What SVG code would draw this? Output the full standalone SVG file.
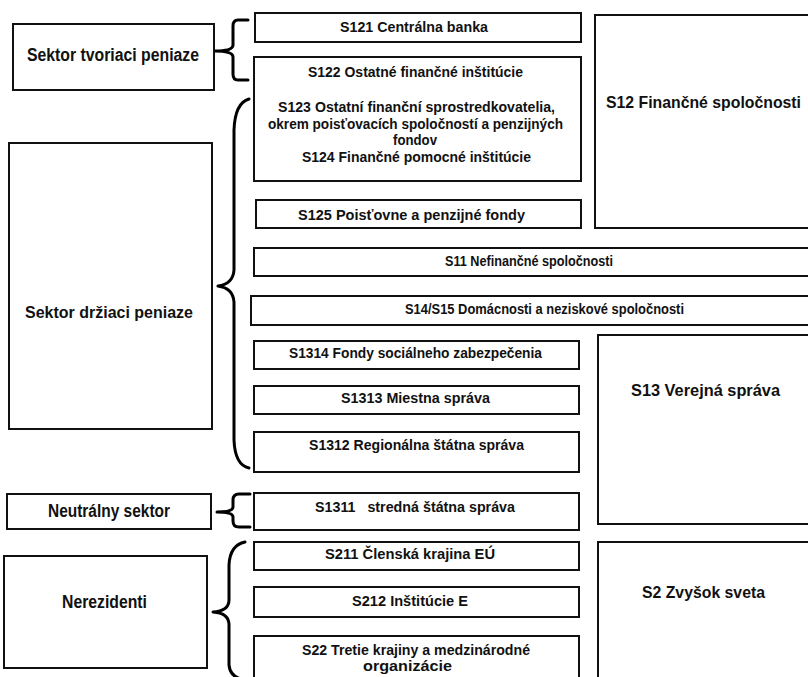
<svg xmlns="http://www.w3.org/2000/svg" width="808" height="677" viewBox="0 0 808 677">
<style>
.box{fill:#fff;stroke:#111;stroke-width:2}
.t{font-family:"Liberation Sans Narrow","Liberation Sans",Arial,sans-serif;font-weight:bold;font-size:15px;fill:#111;text-anchor:middle}
.big{font-size:17px}
.sec{font-size:18px}
.brace{fill:none;stroke:#000;stroke-width:3;stroke-linejoin:round;stroke-linecap:round}
</style>
<rect width="808" height="677" fill="#fff"/>
<g id="connectors">
<path class="brace" d="M248,20 L238,20 Q233,20 233,26 L233,45 Q233,51 215,51 Q233,51 233,57 L233,74 Q233,80 238,80 L248,80"/>
<path class="brace" d="M249,99 Q235,103 234,130 L234,270 Q233,284 218,286 Q233,288 234,302 L234,440 Q235,465 249,468"/>
<path class="brace" d="M250,494 L239,494 Q233,494 233,500 L233,507 Q233,512 217,512 Q233,512 233,517 L233,521 Q233,527 239,527 L250,527"/>
<path class="brace" d="M245,542 Q230,545 229,565 L229,600 Q229,611 213,612 Q229,613 229,625 L229,665 Q230,676 241,679"/>
</g>
<g id="sektor-tvoriaci"><rect class="box" x="13" y="24" width="201" height="66"/><text class="t sec" x="113" y="61" textLength="172" lengthAdjust="spacingAndGlyphs">Sektor tvoriaci peniaze</text></g>
<g id="sektor-drziaci"><rect class="box" x="9" y="143" width="203" height="286"/><text class="t big" x="109" y="318" textLength="168" lengthAdjust="spacingAndGlyphs">Sektor držiaci peniaze</text></g>
<g id="neutralny"><rect class="box" x="7" y="494" width="204" height="35"/><text class="t sec" x="109" y="517" textLength="122" lengthAdjust="spacingAndGlyphs">Neutrálny sektor</text></g>
<g id="nerezidenti"><rect class="box" x="4" y="556" width="203" height="112"/><text class="t sec" x="104.5" y="608" textLength="85" lengthAdjust="spacingAndGlyphs">Nerezidenti</text></g>
<g id="s121"><rect class="box" x="255" y="13" width="326" height="29"/><text class="t" x="414" y="32" textLength="148" lengthAdjust="spacingAndGlyphs">S121 Centrálna banka</text></g>
<g id="s122"><rect class="box" x="254" y="57" width="327" height="124"/>
<text class="t" x="415.5" y="77" textLength="215" lengthAdjust="spacingAndGlyphs">S122 Ostatné finančné inštitúcie</text>
<text class="t" x="416.5" y="112" textLength="277" lengthAdjust="spacingAndGlyphs">S123 Ostatní finanční sprostredkovatelia,</text>
<text class="t" x="415.5" y="129" textLength="295" lengthAdjust="spacingAndGlyphs">okrem poisťovacích spoločností a penzijných</text>
<text class="t" x="415" y="145" textLength="44" lengthAdjust="spacingAndGlyphs">fondov</text>
<text class="t" x="416.5" y="162" textLength="229" lengthAdjust="spacingAndGlyphs">S124 Finančné pomocné inštitúcie</text></g>
<g id="s125"><rect class="box" x="256" y="200" width="325" height="28"/><text class="t" x="411.5" y="220" textLength="227" lengthAdjust="spacingAndGlyphs">S125 Poisťovne a penzijné fondy</text></g>
<g id="s12"><rect class="box" x="595" y="15" width="220" height="213"/><text class="t big" x="703.5" y="108" textLength="195" lengthAdjust="spacingAndGlyphs">S12 Finančné spoločnosti</text></g>
<g id="s11"><rect class="box" x="254" y="248" width="561" height="28"/><text class="t" x="529" y="266" textLength="168" lengthAdjust="spacingAndGlyphs">S11 Nefinančné spoločnosti</text></g>
<g id="s14s15"><rect class="box" x="251" y="296" width="564" height="29"/><text class="t" x="544.5" y="314" textLength="279" lengthAdjust="spacingAndGlyphs">S14/S15 Domácnosti a neziskové spoločnosti</text></g>
<g id="s1314"><rect class="box" x="254" y="341" width="325" height="28"/><text class="t" x="415.5" y="358" textLength="253" lengthAdjust="spacingAndGlyphs">S1314 Fondy sociálneho zabezpečenia</text></g>
<g id="s1313"><rect class="box" x="254" y="386" width="325" height="28"/><text class="t" x="415.5" y="403" textLength="149" lengthAdjust="spacingAndGlyphs">S1313 Miestna správa</text></g>
<g id="s1312"><rect class="box" x="254" y="432" width="325" height="40"/><text class="t" x="416.5" y="450" textLength="215" lengthAdjust="spacingAndGlyphs">S1312 Regionálna štátna správa</text></g>
<g id="s13"><rect class="box" x="598" y="335" width="217" height="189"/><text class="t big" x="705.5" y="396" textLength="149" lengthAdjust="spacingAndGlyphs">S13 Verejná správa</text></g>
<g id="s1311"><rect class="box" x="254" y="493" width="325" height="37"/><text class="t" x="415" y="512" textLength="200" lengthAdjust="spacingAndGlyphs" xml:space="preserve">S1311   stredná štátna správa</text></g>
<g id="s211"><rect class="box" x="254" y="542" width="325" height="28"/><text class="t" x="410" y="559" textLength="170" lengthAdjust="spacingAndGlyphs">S211 Členská krajina EÚ</text></g>
<g id="s212"><rect class="box" x="254" y="587" width="325" height="30"/><text class="t" x="410" y="606" textLength="116" lengthAdjust="spacingAndGlyphs">S212 Inštitúcie E</text></g>
<g id="s22"><rect class="box" x="254" y="636" width="325" height="60"/>
<text class="t" x="416" y="655" textLength="228" lengthAdjust="spacingAndGlyphs">S22 Tretie krajiny a medzinárodné</text>
<text class="t" x="407.5" y="671" textLength="89" lengthAdjust="spacingAndGlyphs">organizácie</text></g>
<g id="s2"><rect class="box" x="598" y="542" width="217" height="150"/><text class="t big" x="703.5" y="598" textLength="123" lengthAdjust="spacingAndGlyphs">S2 Zvyšok sveta</text></g>
</svg>
